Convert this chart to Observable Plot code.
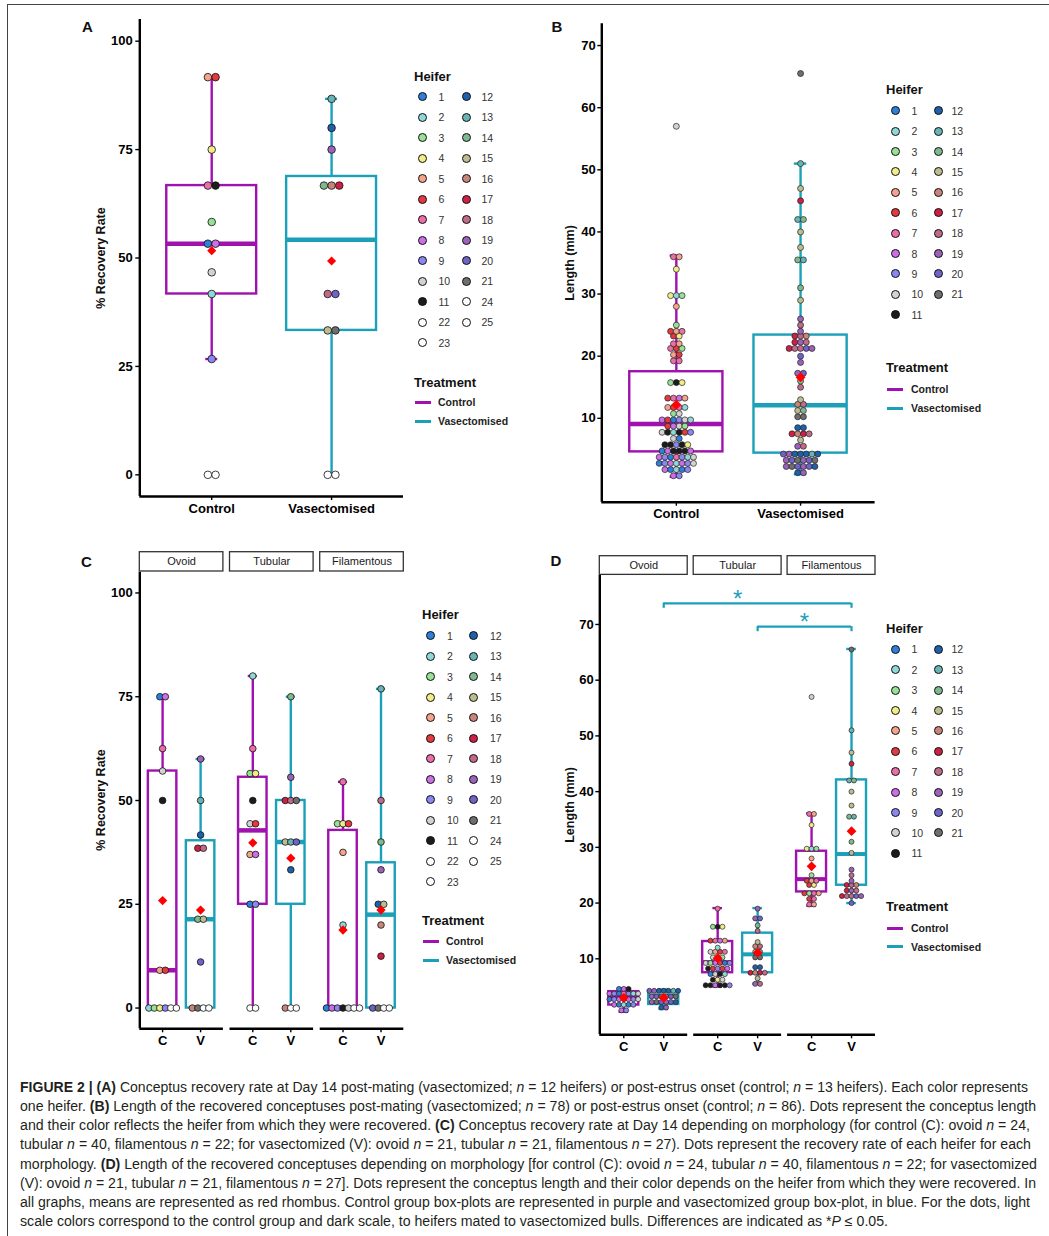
<!DOCTYPE html>
<html><head><meta charset="utf-8">
<script src="https://cdn.jsdelivr.net/npm/d3@7"></script>
<script src="https://cdn.jsdelivr.net/npm/@observablehq/plot@0.6"></script>
<style>
body{margin:0;background:#fff;font-family:"Liberation Sans",Arial,sans-serif;}
#fig{position:relative;width:1049px;height:1236px;overflow:hidden;background:#fff;}
</style></head><body><div id="fig"></div>
<script>
// ================= DATA =================
const treatments = ["Control", "Vasectomised"];
const treatShort = ["C", "V"];
const morphologies = ["Ovoid", "Tubular", "Filamentous"];

// Heifer legend columns
const legendColsAC = [[1,2,3,4,5,6,7,8,9,10,11,22,23],[12,13,14,15,16,17,18,19,20,21,24,25]];
const legendColsBD = [[1,2,3,4,5,6,7,8,9,10,11],[12,13,14,15,16,17,18,19,20,21]];

// Panel A: % recovery rate per heifer
const recoveryControl = [91.7, 91.7, 75, 66.7, 66.7, 58.3, 53.3, 53.3, 46.7, 41.7, 26.7, 0, 0];
const recoveryControlHeifer = [5, 6, 4, 7, 11, 3, 1, 8, 10, 2, 9, 22, 23];
const recoveryVas = [86.7, 80, 75, 66.7, 66.7, 66.7, 41.7, 41.7, 33.3, 33.3, 0, 0];
const recoveryVasHeifer = [13, 12, 19, 14, 16, 17, 18, 20, 15, 21, 24, 25];
const aQ1 = [41.7, 33.3], aMedian = [53.3, 54.2], aQ3 = [66.7, 68.8];
const aLow = [26.7, 0], aHigh = [91.7, 86.7], aMean = [51.7, 49.3];

// Panel C: % recovery rate per heifer and morphology
const recOvoidCtrl = [75, 75, 62.5, 57.1, 50, 9.1, 9.1, 0, 0, 0, 0, 0, 0];
const recOvoidCtrlHeifer = [1, 8, 7, 10, 11, 5, 6, 2, 3, 4, 9, 22, 23];
const recOvoidVas = [60, 50, 41.7, 38.5, 38.5, 21.4, 21.4, 11.1, 0, 0, 0, 0];
const recOvoidVasHeifer = [19, 13, 12, 17, 18, 14, 15, 20, 16, 21, 24, 25];
const recTubCtrl = [80, 62.5, 56.5, 56.5, 50, 44.4, 44.4, 37, 37, 25, 25, 0, 0];
const recTubCtrlHeifer = [2, 7, 3, 4, 11, 10, 6, 5, 8, 1, 9, 22, 23];
const recTubVas = [75, 55.6, 50, 50, 50, 40, 40, 40, 33.3, 0, 0, 0];
const recTubVasHeifer = [14, 19, 17, 18, 21, 15, 13, 20, 12, 16, 24, 25];
const recFilCtrl = [54.5, 44.4, 44.4, 44.4, 37.5, 20, 0, 0, 0, 0, 0, 0, 0];
const recFilCtrlHeifer = [7, 3, 4, 6, 5, 2, 1, 8, 9, 11, 10, 22, 23];
const recFilVas = [76.9, 50, 40, 33.3, 25, 25, 20, 12.5, 0, 0, 0, 0];
const recFilVasHeifer = [13, 18, 14, 19, 12, 15, 16, 17, 20, 21, 24, 25];
// order: Ovoid-C, Ovoid-V, Tubular-C, Tubular-V, Filamentous-C, Filamentous-V
const cQ1 = [0, 0, 25, 25, 0, 0];
const cMedian = [9.1, 21.4, 42.8, 40, 0, 22.5];
const cQ3 = [57.1, 40.3, 55.6, 50, 42.8, 35];
const cLow = [0, 0, 0, 0, 0, 0];
const cHigh = [75, 60, 80, 75, 54.5, 76.9];
const cMean = [25.9, 23.6, 39.8, 36.1, 18.8, 23.6];

// Panel D: conceptus length (mm) per morphology
const lenOvoidCtrl = [4.7, 4.5, 4.5, 4, 4, 4, 3.5, 3.5, 3.5, 3.5, 3, 3, 3, 3, 2.5, 2.5, 2.5, 2, 2, 2, 1.5, 1.5, 1, 0.5];
const lenOvoidCtrlHeifer = [11, 1, 8, 9, 2, 10, 8, 9, 1, 7, 2, 8, 9, 10, 1, 9, 8, 2, 1, 9, 8, 1, 9, 8];
const lenOvoidVas = [4.5, 4.5, 4.5, 4.5, 4.5, 4, 4, 3.5, 3.5, 3.5, 3, 3, 3, 2.5, 2.5, 2.5, 2, 2, 2, 1.5, 1];
const lenOvoidVasHeifer = [12, 12, 12, 13, 12, 20, 19, 19, 20, 21, 19, 20, 21, 19, 20, 12, 19, 21, 20, 19, 12];
const lenTubCtrl = [19, 16, 16, 15.5, 13.5, 13.5, 13.5, 13, 12, 11.5, 11.5, 11.5, 11, 10.5, 10, 10, 9.5, 9.5, 9.5, 9.5, 9, 9, 8.5, 8.5, 8, 8, 8, 7.5, 7.5, 7.5, 7, 6.5, 6, 6, 5.5, 5.5, 5.5, 5, 5, 5];
const lenTubCtrlHeifer = [7, 11, 4, 3, 7, 8, 5, 6, 2, 5, 6, 7, 10, 3, 10, 2, 8, 6, 1, 9, 10, 3, 6, 8, 11, 6, 9, 10, 11, 2, 1, 10, 11, 4, 11, 11, 9, 11, 11, 8];
const lenTubVas = [19, 17.5, 17, 16, 15, 13, 12.5, 12, 11.5, 11, 10.5, 10, 8.5, 8.5, 7.5, 7.5, 7.5, 7.5, 6.5, 5.5, 5.5];
const lenTubVasHeifer = [19, 20, 19, 14, 18, 15, 18, 16, 14, 15, 21, 21, 12, 12, 17, 16, 17, 18, 15, 19, 18];
const lenFilCtrl = [57, 36, 36, 34, 30, 29.5, 29.5, 28, 25, 24, 24, 24, 23.5, 23, 22, 22, 21.5, 21.5, 21, 20.5, 20, 19.5];
const lenFilCtrlHeifer = [10, 7, 5, 4, 3, 4, 2, 5, 3, 6, 5, 7, 4, 6, 7, 5, 6, 3, 7, 6, 5, 7];
const lenFilVas = [65.5, 51, 47, 45, 42, 42, 40, 37.5, 35.5, 35.5, 31, 29, 26, 25, 24, 23.5, 23.5, 23, 22.5, 22.5, 22, 21.5, 21.5, 21.5, 21, 21, 20];
const lenFilVasHeifer = [21, 13, 15, 17, 13, 14, 15, 15, 14, 13, 14, 15, 19, 18, 19, 18, 16, 17, 19, 18, 17, 18, 20, 19, 17, 18, 20];
const dQ1 = [1.7, 1.8, 7.5, 7.5, 22, 23.2];
const dMedian = [3.1, 3.4, 9.4, 10.8, 24.3, 28.8];
const dQ3 = [4.1, 4.1, 13.1, 14.6, 29.3, 42.1];
const dLow = [0.5, 1.0, 5.0, 5.5, 19.5, 20];
const dHigh = [4.7, 4.5, 19.1, 19.1, 36.1, 65.6];
const dMean = [3.0, 3.0, 10.1, 11.1, 26.6, 32.9];
// significance brackets (vasectomised groups)
const bracketFrom = ["Ovoid", "Tubular"];
const bracketTo = ["Filamentous", "Filamentous"];
const bracketY = [73.8, 69.6];
const bracketLabel = ["*", "*"];
const bracketLabelFacet = ["Tubular", "Filamentous"];
const bracketLabelOffset = [1.1, 0.42];

// Panel B: conceptus length, all morphologies together
const lenControl = [...lenOvoidCtrl, ...lenTubCtrl, ...lenFilCtrl];
const lenControlHeifer = [...lenOvoidCtrlHeifer, ...lenTubCtrlHeifer, ...lenFilCtrlHeifer];
const lenVas = [...lenOvoidVas, ...lenTubVas, ...lenFilVas];
const lenVasHeifer = [...lenOvoidVasHeifer, ...lenTubVasHeifer, ...lenFilVasHeifer];
const bQ1 = [4.6, 4.4], bMedian = [9.1, 12.1], bQ3 = [17.5, 23.4];
const bLow = [0.6, 1.0], bHigh = [36.2, 51], bMean = [12.2, 16.6];

// ================= STYLE =================
const heiferColor = {1:"#2e7fd8",2:"#90d8d8",3:"#98e098",4:"#f0ec88",5:"#f4a48c",6:"#e23a3e",7:"#ec6ea8",
  8:"#cc6fe6",9:"#8c86f0",10:"#d2d2d2",11:"#1c1c1c",12:"#2060a8",13:"#68b4b4",14:"#7fb88f",15:"#bcbc90",
  16:"#c8867a",17:"#cc2044",18:"#c06a8a",19:"#9c62b8",20:"#6e64c8",21:"#6e6e6e",22:"#ffffff",23:"#ffffff",24:"#ffffff",25:"#ffffff"};
const CTRL = "#a012ae", VAS = "#1c9fb9";
const groupColor = [CTRL, VAS];

const fig = document.getElementById("fig");

function addText(text, x, y, css, mode) {
  const d = document.createElement("div");
  d.textContent = text;
  d.style.cssText = `position:absolute;left:${x}px;top:${y}px;white-space:nowrap;line-height:1;` + (css||"");
  d.style.transform = mode === "center" ? "translate(-50%,-50%)" : mode === "rot" ? "translate(-50%,-50%) rotate(-90deg)" : "translateY(-50%)";
  fig.appendChild(d);
  return d;
}
function addBox(x, y, w, h, css) {
  const d = document.createElement("div");
  d.style.cssText = `position:absolute;left:${x}px;top:${y}px;width:${w}px;height:${h}px;` + css;
  fig.appendChild(d);
}

// dot-density stacking (centered), like geom_dotplot(binaxis="y", stackdir="center")
function dotStack(values, heifers, center, binwidth, spacing) {
  const order = d3.range(values.length).sort((a, b) => values[a] - values[b]);
  const bins = []; let cur = null;
  for (const i of order) {
    if (!cur || values[i] - cur.start >= binwidth) { cur = {start: values[i], items: []}; bins.push(cur); }
    cur.items.push(i);
  }
  const out = [];
  for (const b of bins) {
    const vs = b.items.map(i => values[i]);
    const yc = (d3.min(vs) + d3.max(vs)) / 2;
    const k = b.items.length;
    b.items.forEach((i, j) => out.push({x: center + (j - (k - 1) / 2) * spacing, y: yc, fill: heiferColor[heifers[i]]}));
  }
  return out;
}

function boxMarks(rows, halfWidth, capHalf, medianWidth) {
  return [
    Plot.ruleX(rows, {x: "x", y1: "q3", y2: "hi", stroke: "color", strokeWidth: 2.4}),
    Plot.ruleX(rows, {x: "x", y1: "lo", y2: "q1", stroke: "color", strokeWidth: 2.4}),
    Plot.ruleY(rows, {y: "hi", x1: d => d.x - capHalf, x2: d => d.x + capHalf, stroke: "color", strokeWidth: 2.4}),
    Plot.ruleY(rows, {y: "lo", x1: d => d.x - capHalf, x2: d => d.x + capHalf, stroke: "color", strokeWidth: 2.4}),
    Plot.rect(rows, {x1: d => d.x - halfWidth, x2: d => d.x + halfWidth, y1: "q1", y2: "q3", fill: "none", stroke: "color", strokeWidth: 2.4}),
    Plot.ruleY(rows, {y: "med", x1: d => d.x - halfWidth, x2: d => d.x + halfWidth, stroke: "color", strokeWidth: medianWidth})
  ];
}

function panel({left, top, xPix, yPix, xDomain, yDomain, marks}) {
  const width = Math.round(xPix[1] - left + 12);
  const height = Math.round(yPix[1] - top + 32);
  const svg = Plot.plot({
    width, height,
    marginLeft: xPix[0] - left, marginRight: width - (xPix[1] - left),
    marginTop: yPix[0] - top, marginBottom: height - (yPix[1] - top),
    x: {domain: xDomain},
    y: {domain: yDomain},
    color: {type: "identity"},
    style: {fontFamily: "Liberation Sans, Arial, sans-serif", fontSize: "13px", fontWeight: "bold", color: "black", background: "transparent", overflow: "visible"},
    marks
  });
  svg.style.position = "absolute";
  svg.style.left = left + "px";
  svg.style.top = top + "px";
  fig.appendChild(svg);
}

// ================= PANEL A =================
{
  const rows = treatments.map((t, i) => ({x: i + 1, q1: aQ1[i], med: aMedian[i], q3: aQ3[i], lo: aLow[i], hi: aHigh[i], mean: aMean[i], color: groupColor[i]}));
  const dots = [...dotStack(recoveryControl, recoveryControlHeifer, 1, 2, 0.064), ...dotStack(recoveryVas, recoveryVasHeifer, 2, 2, 0.064)];
  panel({left: 40, top: 8, xPix: [139.3, 403], yPix: [19, 496], xDomain: [0.4, 2.6], yDomain: [-5, 105], marks: [
    ...boxMarks(rows, 0.375, 0.05, 4.5),
    Plot.dot(dots, {x: "x", y: "y", fill: "fill", stroke: "#111", strokeWidth: 0.8, r: 3.8}),
    Plot.dot(rows, {x: "x", y: "mean", symbol: "diamond2", fill: "red", r: 4.1}),
    Plot.ruleX([0.4], {stroke: "black", strokeWidth: 2.4}),
    Plot.ruleY([-5], {stroke: "black", strokeWidth: 2.4}),
    Plot.axisY({ticks: [0, 25, 50, 75, 100], tickSize: 4, tickPadding: 3, strokeWidth: 1.4, label: null}),
    Plot.axisX({ticks: [1, 2], tickFormat: d => treatments[Math.round(d) - 1], tickSize: 4, tickPadding: 3, strokeWidth: 1.4, label: null})
  ]});
}

// ================= PANEL B =================
{
  const rows = treatments.map((t, i) => ({x: i + 1, q1: bQ1[i], med: bMedian[i], q3: bQ3[i], lo: bLow[i], hi: bHigh[i], mean: bMean[i], color: groupColor[i]}));
  const dots = [...dotStack(lenControl, lenControlHeifer, 1, 1.0, 0.046), ...dotStack(lenVas, lenVasHeifer, 2, 1.0, 0.046)];
  panel({left: 540, top: 10, xPix: [601.3, 874.6], yPix: [23.3, 501.7], xDomain: [0.4, 2.6], yDomain: [-3.5, 73.5], marks: [
    ...boxMarks(rows, 0.375, 0.05, 4.5),
    Plot.dot(dots, {x: "x", y: "y", fill: "fill", stroke: "#222", strokeWidth: 0.7, r: 3.0}),
    Plot.dot(rows, {x: "x", y: "mean", symbol: "diamond2", fill: "red", r: 4.5}),
    Plot.ruleX([0.4], {stroke: "black", strokeWidth: 2.4}),
    Plot.ruleY([-3.5], {stroke: "black", strokeWidth: 2.4}),
    Plot.axisY({ticks: [10, 20, 30, 40, 50, 60, 70], tickSize: 4, tickPadding: 2, strokeWidth: 1.4, label: null}),
    Plot.axisX({ticks: [1, 2], tickFormat: d => treatments[Math.round(d) - 1], tickSize: 4, tickPadding: 3, strokeWidth: 1.4, label: null})
  ]});
}

// faceted helpers
function facetLayout(gap) {
  const start = k => k * (2.2 + gap);
  const pos = (k, t) => start(k) + (t === 0 ? 0.6 : 1.6);
  return {start, pos, xmax: 3 * 2.2 + 2 * gap};
}
function facetDecor(L, yAxisBottom, yAxisTop, stripLow, stripHigh, groupsTicks) {
  const facets = morphologies.map((m, k) => ({m, x1: L.start(k), x2: L.start(k) + 2.2, xm: L.start(k) + 1.1}));
  return [
    Plot.ruleY(facets, {y: yAxisBottom, x1: "x1", x2: "x2", stroke: "black", strokeWidth: 2.4}),
    Plot.ruleX([0], {y1: yAxisBottom, y2: yAxisTop, stroke: "black", strokeWidth: 2.4}),
    Plot.rect(facets, {x1: "x1", x2: "x2", y1: stripLow, y2: stripHigh, fill: "white", stroke: "#333", strokeWidth: 1.3}),
    Plot.text(facets, {x: "xm", y: (stripLow + stripHigh) / 2, text: "m", fontSize: 11, fontWeight: "normal", fill: "#1a1a1a"}),
    Plot.axisX({ticks: groupsTicks.map(g => g.x), tickFormat: d => groupsTicks.find(g => Math.abs(g.x - d) < 1e-6).label, tickSize: 4, tickPadding: 3, strokeWidth: 1.4, label: null})
  ];
}

// ================= PANEL C =================
{
  const L = facetLayout(0.174);
  const pts = [[recOvoidCtrl, recOvoidCtrlHeifer], [recOvoidVas, recOvoidVasHeifer], [recTubCtrl, recTubCtrlHeifer],
               [recTubVas, recTubVasHeifer], [recFilCtrl, recFilCtrlHeifer], [recFilVas, recFilVasHeifer]];
  const rows = pts.map((p, i) => ({x: L.pos(Math.floor(i / 2), i % 2), q1: cQ1[i], med: cMedian[i], q3: cQ3[i], lo: cLow[i], hi: cHigh[i], mean: cMean[i], color: groupColor[i % 2], label: treatShort[i % 2]}));
  const dots = pts.flatMap((p, i) => dotStack(p[0], p[1], rows[i].x, 2, 0.145));
  panel({left: 40, top: 540, xPix: [139.3, 403.3], yPix: [551.7, 1028.3], xDomain: [0, L.xmax], yDomain: [-5, 109.82], marks: [
    ...boxMarks(rows, 0.375, 0.12, 4.5),
    Plot.dot(dots, {x: "x", y: "y", fill: "fill", stroke: "#111", strokeWidth: 0.8, r: 3.3}),
    Plot.dot(rows, {x: "x", y: "mean", symbol: "diamond2", fill: "red", r: 4.2}),
    ...facetDecor(L, -5, 105, 105.17, 109.82, rows),
    Plot.axisY({ticks: [0, 25, 50, 75, 100], tickSize: 4, tickPadding: 3, strokeWidth: 1.4, label: null})
  ]});
}

// ================= PANEL D =================
{
  const L = facetLayout(0.15);
  const pts = [[lenOvoidCtrl, lenOvoidCtrlHeifer], [lenOvoidVas, lenOvoidVasHeifer], [lenTubCtrl, lenTubCtrlHeifer],
               [lenTubVas, lenTubVasHeifer], [lenFilCtrl, lenFilCtrlHeifer], [lenFilVas, lenFilVasHeifer]];
  const rows = pts.map((p, i) => ({x: L.pos(Math.floor(i / 2), i % 2), q1: dQ1[i], med: dMedian[i], q3: dQ3[i], lo: dLow[i], hi: dHigh[i], mean: dMean[i], color: groupColor[i % 2], label: treatShort[i % 2]}));
  const dots = pts.flatMap((p, i) => dotStack(p[0], p[1], rows[i].x, 0.9, 0.12));
  const br = bracketY.map((y, i) => ({
    x1: L.pos(morphologies.indexOf(bracketFrom[i]), 1), x2: L.pos(morphologies.indexOf(bracketTo[i]), 1),
    y, yt: y - 0.9, lx: L.start(morphologies.indexOf(bracketLabelFacet[i])) + bracketLabelOffset[i], ly: y + 1.6, label: bracketLabel[i]
  }));
  panel({left: 540, top: 540, xPix: [599.3, 875], yPix: [555.7, 1034.3], xDomain: [0, L.xmax], yDomain: [-3.64, 82.25], marks: [
    ...boxMarks(rows, 0.375, 0.12, 4.0),
    Plot.dot(dots, {x: "x", y: "y", fill: "fill", stroke: "#222", strokeWidth: 0.7, r: 2.5}),
    Plot.dot(rows, {x: "x", y: "mean", symbol: "diamond2", fill: "red", r: 4.4}),
    Plot.ruleY(br, {y: "y", x1: "x1", x2: "x2", stroke: VAS, strokeWidth: 2.2}),
    Plot.ruleX(br, {x: "x1", y1: "y", y2: "yt", stroke: VAS, strokeWidth: 2.2}),
    Plot.ruleX(br, {x: "x2", y1: "y", y2: "yt", stroke: VAS, strokeWidth: 2.2}),
    Plot.text(br, {x: "lx", y: "ly", text: "label", fill: VAS, fontSize: 24, fontWeight: "normal", dy: 5}),
    ...facetDecor(L, -3.64, 78.8, 78.9, 82.25, rows),
    Plot.axisY({ticks: [10, 20, 30, 40, 50, 60, 70], tickSize: 4, tickPadding: 2, strokeWidth: 1.4, label: null})
  ]});
}

// ================= TITLES, LETTERS =================
const titleCss = "font-size:12.5px;font-weight:bold;color:#111;";
addText("% Recovery Rate", 100.5, 257.5, titleCss, "rot");
addText("Length (mm)", 570, 262.5, titleCss, "rot");
addText("% Recovery Rate", 100.5, 800, titleCss, "rot");
addText("Length (mm)", 570, 805, titleCss, "rot");
const letterCss = "font-size:15px;font-weight:bold;color:#111;";
addText("A", 87.5, 25.5, letterCss, "center");
addText("B", 557, 25.5, letterCss, "center");
addText("C", 86.5, 561, letterCss, "center");
addText("D", 556, 560, letterCss, "center");

// ================= LEGENDS =================
function legend(cfg, cols) {
  addText("Heifer", cfg.left, cfg.heiferY, "font-size:13px;font-weight:bold;color:#111;");
  cols.forEach((col, c) => col.forEach((h, r) => {
    const y = cfg.rowY + r * cfg.rowH;
    const cx = c === 0 ? cfg.c1 : cfg.c2, nx = c === 0 ? cfg.n1 : cfg.n2;
    addBox(cx - 4.5, y - 4.5, 7, 7, `border:1px solid #111;border-radius:50%;background:${heiferColor[h]};`);
    addText(String(h), nx, y, "font-size:10.5px;color:#333;");
  }));
  addText("Treatment", cfg.left, cfg.treatY, "font-size:13px;font-weight:bold;color:#111;");
  treatments.forEach((t, i) => {
    const y = i === 0 ? cfg.ctrlY : cfg.vasY;
    addBox(cfg.lineX, y - 1.5, 16, 3, `background:${groupColor[i]};`);
    addText(t, cfg.textX, y, "font-size:10.5px;font-weight:bold;color:#222;");
  });
}
legend({left: 414, heiferY: 76, rowY: 96.5, rowH: 20.5, c1: 422.7, n1: 438.5, c2: 466, n2: 481.5, treatY: 381.5, ctrlY: 402, vasY: 421, lineX: 415, textX: 438}, legendColsAC);
legend({left: 886, heiferY: 89, rowY: 110.7, rowH: 20.4, c1: 895, n1: 911.5, c2: 938.3, n2: 951.5, treatY: 367, ctrlY: 389, vasY: 408, lineX: 887, textX: 911}, legendColsBD);
legend({left: 422, heiferY: 614, rowY: 635.5, rowH: 20.5, c1: 430.5, n1: 447, c2: 473.5, n2: 490, treatY: 920, ctrlY: 941, vasY: 960, lineX: 423, textX: 446}, legendColsAC);
legend({left: 886, heiferY: 628, rowY: 649.3, rowH: 20.4, c1: 895, n1: 911.5, c2: 938.3, n2: 951.5, treatY: 906, ctrlY: 928, vasY: 946.5, lineX: 887, textX: 911}, legendColsBD);

// ================= FRAME =================
addBox(7, 4, 1042, 1, "background:#444;");
addBox(7, 4, 1, 1232, "background:#444;");

// ================= CAPTION =================
const captionLines = [
  "<b>FIGURE 2 | (A)</b> Conceptus recovery rate at Day 14 post-mating (vasectomized; <i>n</i> = 12 heifers) or post-estrus onset (control; <i>n</i> = 13 heifers). Each color represents",
  "one heifer. <b>(B)</b> Length of the recovered conceptuses post-mating (vasectomized; <i>n</i> = 78) or post-estrus onset (control; <i>n</i> = 86). Dots represent the conceptus length",
  "and their color reflects the heifer from which they were recovered. <b>(C)</b> Conceptus recovery rate at Day 14 depending on morphology (for control (C): ovoid <i>n</i> = 24,",
  "tubular <i>n</i> = 40, filamentous <i>n</i> = 22; for vasectomized (V): ovoid <i>n</i> = 21, tubular <i>n</i> = 21, filamentous <i>n</i> = 27). Dots represent the recovery rate of each heifer for each",
  "morphology. <b>(D)</b> Length of the recovered conceptuses depending on morphology [for control (C): ovoid <i>n</i> = 24, tubular <i>n</i> = 40, filamentous <i>n</i> = 22; for vasectomized",
  "(V): ovoid <i>n</i> = 21, tubular <i>n</i> = 21, filamentous <i>n</i> = 27]. Dots represent the conceptus length and their color depends on the heifer from which they were recovered. In",
  "all graphs, means are represented as red rhombus. Control group box-plots are represented in purple and vasectomized group box-plot, in blue. For the dots, light",
  "scale colors correspond to the control group and dark scale, to heifers mated to vasectomized bulls. Differences are indicated as *<i>P</i> ≤ 0.05."
];
const captionLength = [1008, 1016, 1010, 1011, 1017, 1016, 1010, 868];
{
  const svg = d3.create("svg").attr("width", 1049).attr("height", 170)
    .style("position", "absolute").style("left", "0px").style("top", "1066px");
  captionLines.forEach((line, i) => {
    const t = svg.append("text").attr("x", 20).attr("y", 26 + i * 19.15)
      .attr("textLength", captionLength[i]).attr("lengthAdjust", "spacingAndGlyphs")
      .style("white-space", "pre").style("font-family", "'Liberation Sans Narrow', 'Liberation Sans', Arial, sans-serif")
      .style("font-size", "14px").attr("fill", "#231f20");
    const re = /<(b|i)>(.*?)<\/\1>/g; let last = 0, m;
    while ((m = re.exec(line))) {
      if (m.index > last) t.append("tspan").text(line.slice(last, m.index));
      const s = t.append("tspan").text(m[2]);
      if (m[1] === "b") s.attr("font-weight", "bold"); else s.attr("font-style", "italic");
      last = re.lastIndex;
    }
    if (last < line.length) t.append("tspan").text(line.slice(last));
  });
  fig.appendChild(svg.node());
}
</script></body></html>
